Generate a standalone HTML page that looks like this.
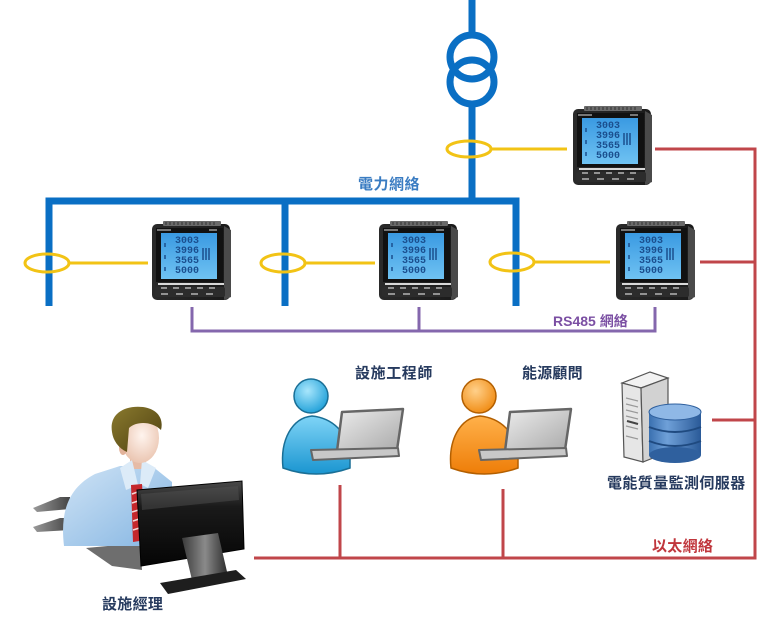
<!DOCTYPE html>
<html><head><meta charset="utf-8"><style>
html,body{margin:0;padding:0;background:#fff;}
svg{display:block;}
.t{font-family:"Liberation Sans","Noto Sans CJK TC",sans-serif;font-weight:bold;}
.d{font-family:"Liberation Mono",monospace;font-weight:bold;}
</style></head><body>
<svg width="768" height="617" viewBox="0 0 768 617" xmlns="http://www.w3.org/2000/svg">
<defs>
<linearGradient id="lcd" x1="0" y1="0" x2="0" y2="1"><stop offset="0" stop-color="#3a9ae2"/><stop offset="1" stop-color="#6fc2f2"/></linearGradient>
<linearGradient id="body" x1="0" y1="0" x2="1" y2="0"><stop offset="0" stop-color="#2a2a2a"/><stop offset="1" stop-color="#1a1a1a"/></linearGradient>
<radialGradient id="bh" cx="0.4" cy="0.35" r="0.7"><stop offset="0" stop-color="#a8e6fc"/><stop offset="1" stop-color="#1d9fd8"/></radialGradient>
<linearGradient id="bb" x1="0" y1="0" x2="0" y2="1"><stop offset="0" stop-color="#7fd4f7"/><stop offset="1" stop-color="#1a95d0"/></linearGradient>
<radialGradient id="oh" cx="0.4" cy="0.35" r="0.7"><stop offset="0" stop-color="#ffd08a"/><stop offset="1" stop-color="#f08a10"/></radialGradient>
<linearGradient id="ob" x1="0" y1="0" x2="0" y2="1"><stop offset="0" stop-color="#ffb14a"/><stop offset="1" stop-color="#ee7d08"/></linearGradient>
<linearGradient id="lap" x1="0" y1="0" x2="1" y2="1"><stop offset="0" stop-color="#ececec"/><stop offset="1" stop-color="#a9a9a9"/></linearGradient>
<linearGradient id="db" x1="0" y1="0" x2="1" y2="0"><stop offset="0" stop-color="#3a70b0"/><stop offset="0.35" stop-color="#6fa0d8"/><stop offset="1" stop-color="#2a5a98"/></linearGradient>
<linearGradient id="shirt" x1="0" y1="0" x2="1" y2="1"><stop offset="0" stop-color="#cfe3f5"/><stop offset="1" stop-color="#84b5e2"/></linearGradient>
<radialGradient id="face" cx="0.55" cy="0.45" r="0.6"><stop offset="0" stop-color="#fff4ee"/><stop offset="1" stop-color="#e9c2ad"/></radialGradient>
<linearGradient id="hair" x1="0" y1="0" x2="1" y2="1"><stop offset="0" stop-color="#8a7a2e"/><stop offset="1" stop-color="#4d3f10"/></linearGradient>
<linearGradient id="mon" x1="0" y1="0" x2="0" y2="1"><stop offset="0" stop-color="#4a4a4a"/><stop offset="0.3" stop-color="#1a1a1a"/><stop offset="1" stop-color="#050505"/></linearGradient>
<linearGradient id="shd" x1="0" y1="0" x2="1" y2="0"><stop offset="0" stop-color="#9a9a9a"/><stop offset="1" stop-color="#444"/></linearGradient>
<linearGradient id="neck" x1="0" y1="0" x2="1" y2="0"><stop offset="0" stop-color="#3a3a3a"/><stop offset="0.5" stop-color="#8a8a8a"/><stop offset="1" stop-color="#2a2a2a"/></linearGradient>
</defs>

<!-- Ethernet (red) -->
<g stroke="#c0464a" stroke-width="3" fill="none">
<polyline points="655,149 755,149 755,558 254,558"/>
<line x1="700" y1="262" x2="755" y2="262"/>
<line x1="712" y1="420" x2="755" y2="420"/>
<line x1="340" y1="485" x2="340" y2="558"/>
<line x1="503" y1="489" x2="503" y2="558"/>
</g>

<!-- RS485 (purple) -->
<g stroke="#8467ad" stroke-width="3" fill="none">
<polyline points="192,307 192,331 655,331 655,307"/>
<line x1="419" y1="307" x2="419" y2="331"/>
</g>

<!-- Power network (blue) -->
<g stroke="#0a6fc4" stroke-width="7" fill="none">
<line x1="472" y1="0" x2="472" y2="33"/>
<line x1="472" y1="106" x2="472" y2="201"/>
<polyline points="49,306 49,201 516,201 516,306"/>
<line x1="285" y1="201" x2="285" y2="306"/>
<circle cx="472" cy="57" r="22"/>
<circle cx="472" cy="82" r="22"/>
</g>

<!-- Yellow sensors -->
<g stroke="#f2c315" stroke-width="3" fill="none">
<ellipse cx="469" cy="149" rx="22" ry="8"/>
<line x1="491" y1="149" x2="567" y2="149"/>
<ellipse cx="47" cy="263" rx="22" ry="9"/>
<line x1="69" y1="263" x2="148" y2="263"/>
<ellipse cx="283" cy="263" rx="22" ry="9"/>
<line x1="305" y1="263" x2="375" y2="263"/>
<ellipse cx="512" cy="262" rx="22" ry="9"/>
<line x1="534" y1="262" x2="610" y2="262"/>
</g>

<!-- Meters -->
<g transform="translate(572,106)">
<rect x="1" y="3" width="78" height="76" rx="5" fill="url(#body)"/>
<path d="M73 5 L80 9 L80 76 L73 79 Z" fill="#4a4a4a"/>
<rect x="12" y="0" width="58" height="5" rx="1" fill="#6a6a6a"/>
<path d="M15 1v3M19 1v3M23 1v3M27 1v3M31 1v3M35 1v3M39 1v3M43 1v3M47 1v3M51 1v3M55 1v3M59 1v3M63 1v3" stroke="#333" stroke-width="1"/>
<rect x="5" y="7" width="67" height="54" fill="#111"/>
<rect x="6" y="8" width="14" height="2" fill="#777"/><rect x="58" y="8" width="8" height="2" fill="#777"/>
<rect x="10" y="12" width="56" height="46" fill="url(#lcd)"/>
<text class="d" font-size="10" fill="#1b4f8e" x="24" y="22">3003</text>
<text class="d" font-size="10" fill="#1b4f8e" x="24" y="32">3996</text>
<text class="d" font-size="10" fill="#1b4f8e" x="24" y="42">3565</text>
<text class="d" font-size="10" fill="#1b4f8e" x="24" y="52">5000</text>
<path d="M52 27v12M55 27v12M58 27v12" stroke="#1b4f8e" stroke-width="1.5"/>
<path d="M14 22v4M14 34v4M14 46v4" stroke="#1b4f8e" stroke-width="1.5"/>
<rect x="7" y="62" width="66" height="2" fill="#d8d8d8"/>
<rect x="4" y="66" width="70" height="10" rx="2" fill="#2c2c2c"/>
<path d="M10 67h6M22 67h6M34 67h6M46 67h6M58 67h6M10 73h7M25 73h7M40 73h7M55 73h7" stroke="#cfcfcf" stroke-width="1.2"/>
</g>
<g transform="translate(151,221)">
<rect x="1" y="3" width="78" height="76" rx="5" fill="url(#body)"/>
<path d="M73 5 L80 9 L80 76 L73 79 Z" fill="#4a4a4a"/>
<rect x="12" y="0" width="58" height="5" rx="1" fill="#6a6a6a"/>
<path d="M15 1v3M19 1v3M23 1v3M27 1v3M31 1v3M35 1v3M39 1v3M43 1v3M47 1v3M51 1v3M55 1v3M59 1v3M63 1v3" stroke="#333" stroke-width="1"/>
<rect x="5" y="7" width="67" height="54" fill="#111"/>
<rect x="6" y="8" width="14" height="2" fill="#777"/><rect x="58" y="8" width="8" height="2" fill="#777"/>
<rect x="10" y="12" width="56" height="46" fill="url(#lcd)"/>
<text class="d" font-size="10" fill="#1b4f8e" x="24" y="22">3003</text>
<text class="d" font-size="10" fill="#1b4f8e" x="24" y="32">3996</text>
<text class="d" font-size="10" fill="#1b4f8e" x="24" y="42">3565</text>
<text class="d" font-size="10" fill="#1b4f8e" x="24" y="52">5000</text>
<path d="M52 27v12M55 27v12M58 27v12" stroke="#1b4f8e" stroke-width="1.5"/>
<path d="M14 22v4M14 34v4M14 46v4" stroke="#1b4f8e" stroke-width="1.5"/>
<rect x="7" y="62" width="66" height="2" fill="#d8d8d8"/>
<rect x="4" y="66" width="70" height="10" rx="2" fill="#2c2c2c"/>
<path d="M10 67h6M22 67h6M34 67h6M46 67h6M58 67h6M10 73h7M25 73h7M40 73h7M55 73h7" stroke="#cfcfcf" stroke-width="1.2"/>
</g>
<g transform="translate(378,221)">
<rect x="1" y="3" width="78" height="76" rx="5" fill="url(#body)"/>
<path d="M73 5 L80 9 L80 76 L73 79 Z" fill="#4a4a4a"/>
<rect x="12" y="0" width="58" height="5" rx="1" fill="#6a6a6a"/>
<path d="M15 1v3M19 1v3M23 1v3M27 1v3M31 1v3M35 1v3M39 1v3M43 1v3M47 1v3M51 1v3M55 1v3M59 1v3M63 1v3" stroke="#333" stroke-width="1"/>
<rect x="5" y="7" width="67" height="54" fill="#111"/>
<rect x="6" y="8" width="14" height="2" fill="#777"/><rect x="58" y="8" width="8" height="2" fill="#777"/>
<rect x="10" y="12" width="56" height="46" fill="url(#lcd)"/>
<text class="d" font-size="10" fill="#1b4f8e" x="24" y="22">3003</text>
<text class="d" font-size="10" fill="#1b4f8e" x="24" y="32">3996</text>
<text class="d" font-size="10" fill="#1b4f8e" x="24" y="42">3565</text>
<text class="d" font-size="10" fill="#1b4f8e" x="24" y="52">5000</text>
<path d="M52 27v12M55 27v12M58 27v12" stroke="#1b4f8e" stroke-width="1.5"/>
<path d="M14 22v4M14 34v4M14 46v4" stroke="#1b4f8e" stroke-width="1.5"/>
<rect x="7" y="62" width="66" height="2" fill="#d8d8d8"/>
<rect x="4" y="66" width="70" height="10" rx="2" fill="#2c2c2c"/>
<path d="M10 67h6M22 67h6M34 67h6M46 67h6M58 67h6M10 73h7M25 73h7M40 73h7M55 73h7" stroke="#cfcfcf" stroke-width="1.2"/>
</g>
<g transform="translate(615,221)">
<rect x="1" y="3" width="78" height="76" rx="5" fill="url(#body)"/>
<path d="M73 5 L80 9 L80 76 L73 79 Z" fill="#4a4a4a"/>
<rect x="12" y="0" width="58" height="5" rx="1" fill="#6a6a6a"/>
<path d="M15 1v3M19 1v3M23 1v3M27 1v3M31 1v3M35 1v3M39 1v3M43 1v3M47 1v3M51 1v3M55 1v3M59 1v3M63 1v3" stroke="#333" stroke-width="1"/>
<rect x="5" y="7" width="67" height="54" fill="#111"/>
<rect x="6" y="8" width="14" height="2" fill="#777"/><rect x="58" y="8" width="8" height="2" fill="#777"/>
<rect x="10" y="12" width="56" height="46" fill="url(#lcd)"/>
<text class="d" font-size="10" fill="#1b4f8e" x="24" y="22">3003</text>
<text class="d" font-size="10" fill="#1b4f8e" x="24" y="32">3996</text>
<text class="d" font-size="10" fill="#1b4f8e" x="24" y="42">3565</text>
<text class="d" font-size="10" fill="#1b4f8e" x="24" y="52">5000</text>
<path d="M52 27v12M55 27v12M58 27v12" stroke="#1b4f8e" stroke-width="1.5"/>
<path d="M14 22v4M14 34v4M14 46v4" stroke="#1b4f8e" stroke-width="1.5"/>
<rect x="7" y="62" width="66" height="2" fill="#d8d8d8"/>
<rect x="4" y="66" width="70" height="10" rx="2" fill="#2c2c2c"/>
<path d="M10 67h6M22 67h6M34 67h6M46 67h6M58 67h6M10 73h7M25 73h7M40 73h7M55 73h7" stroke="#cfcfcf" stroke-width="1.2"/>
</g>

<!-- Labels -->
<text class="t" x="358" y="189" font-size="15" fill="#3a7cc2" letter-spacing="0.5">電力網絡</text>
<text class="t" x="553" y="326" font-size="14" fill="#7b4fa3">RS485 網絡</text>
<text class="t" x="355" y="378" font-size="15" fill="#263a5e" letter-spacing="0.6">設施工程師</text>
<text class="t" x="522" y="378" font-size="15" fill="#263a5e" letter-spacing="0.2">能源顧問</text>
<text class="t" x="607" y="488" font-size="15" fill="#263a5e" letter-spacing="0.4">電能質量監測伺服器</text>
<text class="t" x="652" y="551" font-size="15" fill="#c0363c" letter-spacing="0.3">以太網絡</text>
<text class="t" x="102" y="609" font-size="15" fill="#263a5e" letter-spacing="0.3">設施經理</text>

<!-- Blue person -->
<g>
<path d="M283,468 C280,440 292,418 312,416 C332,418 348,432 350,456 L350,468 Q316,480 283,468 Z" fill="url(#bb)" stroke="#1a6f96" stroke-width="1.5"/>
<circle cx="311" cy="396" r="17" fill="url(#bh)" stroke="#1a6f96" stroke-width="1.5"/>
<polygon points="342,412 403,409 397,450 337,451" fill="url(#lap)" stroke="#666" stroke-width="2.5" stroke-linejoin="round"/>
<polygon points="311,450 398,448 399,456 313,460" fill="#c8c8c8" stroke="#666" stroke-width="2" stroke-linejoin="round"/>
</g>
<!-- Orange person -->
<g transform="translate(168,0)">
<path d="M283,468 C280,440 292,418 312,416 C332,418 348,432 350,456 L350,468 Q316,480 283,468 Z" fill="url(#ob)" stroke="#b35f00" stroke-width="1.5"/>
<circle cx="311" cy="396" r="17" fill="url(#oh)" stroke="#b35f00" stroke-width="1.5"/>
<polygon points="342,412 403,409 397,450 337,451" fill="url(#lap)" stroke="#666" stroke-width="2.5" stroke-linejoin="round"/>
<polygon points="311,450 398,448 399,456 313,460" fill="#c8c8c8" stroke="#666" stroke-width="2" stroke-linejoin="round"/>
</g>

<!-- Server -->
<g>
<polygon points="622,383 650,372 668,378 641,388" fill="#f2f2f2" stroke="#555" stroke-width="1.2"/>
<polygon points="622,383 641,388 643,462 624,457" fill="#e6e6e6" stroke="#555" stroke-width="1.2"/>
<polygon points="641,388 668,378 668,452 643,462" fill="#d2d2d2" stroke="#555" stroke-width="1.2"/>
<path d="M626,398 L638,401 M626,404 L638,407 M626,410 L638,413 M626,416 L638,419 M626,426 L638,429 M626,436 L638,439" stroke="#999" stroke-width="1.2"/>
<path d="M627,421 L638,424" stroke="#444" stroke-width="2"/>
<rect x="649" y="412" width="52" height="43" fill="url(#db)"/>
<ellipse cx="675" cy="455" rx="26" ry="8" fill="#2f609e"/>
<path d="M649,427 Q675,437 701,427 M649,441 Q675,451 701,441" stroke="#1f4a80" stroke-width="2" fill="none"/>
<ellipse cx="675" cy="412" rx="26" ry="8" fill="#8fb8e6" stroke="#2f609e" stroke-width="1"/>
</g>

<!-- Manager -->
<g>
<polygon points="33,508 60,497 70,497 70,509 37,512" fill="url(#shd)"/>
<polygon points="33,527 60,518 70,518 70,530 37,532" fill="url(#shd)"/>
<polygon points="86,548 140,543 142,570 112,566" fill="#6e6e6e"/>
<path d="M64,546 C60,512 68,488 95,474 L120,466 L152,466 L172,482 L172,546 Z" fill="url(#shirt)"/>
<rect x="130" y="455" width="16" height="14" fill="#e6bba6"/>
<polygon points="120,468 132,460 138,485 126,490" fill="#dcebf8"/>
<polygon points="142,460 156,468 148,488 140,484" fill="#dcebf8"/>
<polygon points="131,485 142,484 146,540 133,542" fill="#c4272c"/>
<path d="M132,494 L143,490 M132,503 L144,499 M132,512 L145,508 M133,521 L145,517 M133,530 L146,526" stroke="#f3d6d6" stroke-width="1.5"/>
<ellipse cx="140" cy="438" rx="19" ry="25" fill="url(#face)"/>
<ellipse cx="123" cy="448" rx="4" ry="7" fill="#e2b29a"/>
<path d="M112,432 C109,414 124,405 143,407 C157,409 164,418 161,430 C152,421 136,421 129,428 L127,452 C118,448 113,440 112,432 Z" fill="url(#hair)"/>
<polygon points="137,490 242,481 244,549 141,566" fill="url(#mon)" stroke="#000" stroke-width="1"/>
<polygon points="141,494 238,486 239,500 142,510" fill="#555" opacity="0.45"/>
<polygon points="182,538 218,533 228,576 192,580" fill="url(#neck)"/>
<polygon points="160,583 236,570 246,579 168,594" fill="#1e1e1e"/>
</g>
</svg>
</body></html>
